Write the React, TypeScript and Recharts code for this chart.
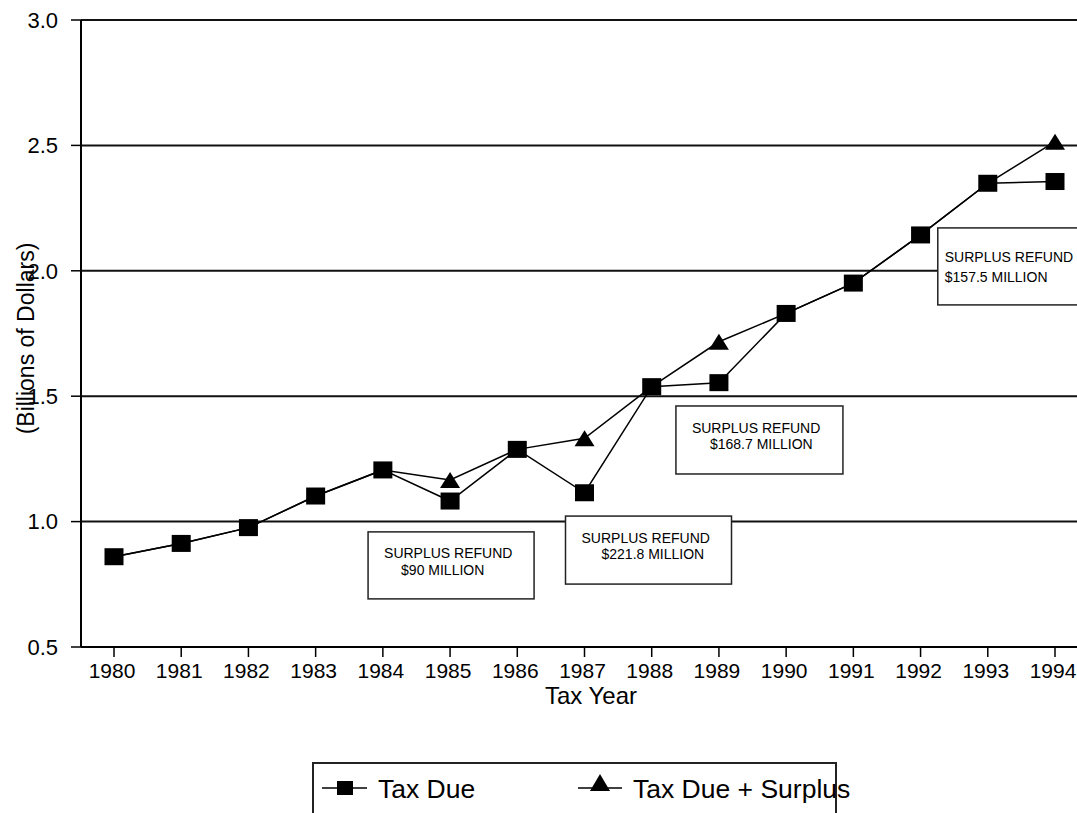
import React from "react";
import {
  LineChart,
  Line,
  XAxis,
  YAxis,
  CartesianGrid,
  Legend,
  Label,
  ReferenceDot,
} from "recharts";

const YEARS = [
  "1980", "1981", "1982", "1983", "1984", "1985", "1986", "1987",
  "1988", "1989", "1990", "1991", "1992", "1993", "1994",
];

// billions of dollars
const TAX_DUE = [
  0.86, 0.913, 0.976, 1.102, 1.206, 1.082, 1.288, 1.115,
  1.538, 1.554, 1.83, 1.951, 2.143, 2.349, 2.356,
];

const TAX_DUE_PLUS_SURPLUS = [
  0.86, 0.913, 0.976, 1.102, 1.206, 1.166, 1.288, 1.332,
  1.538, 1.717, 1.83, 1.951, 2.143, 2.349, 2.515,
];

const Y_TICKS = [0.5, 1.0, 1.5, 2.0, 2.5, 3.0];

const REFUND_LABELS = [
  ["SURPLUS REFUND", "$90 MILLION"],
  ["SURPLUS REFUND", "$221.8 MILLION"],
  ["SURPLUS REFUND", "$168.7 MILLION"],
  ["SURPLUS REFUND", "$157.5 MILLION"],
];

// where each refund note box sits (anchor year / top value, pixel offsets)
const REFUND_BOXES = [
  { year: "1985", top: 0.959, dx: -82, w: 166, h: 67, l1: [16, 26], l2: [33, 43] },
  { year: "1987", top: 1.022, dx: -19, w: 166, h: 68, l1: [16, 27], l2: [36, 43] },
  { year: "1989", top: 1.461, dx: -43, w: 167, h: 68, l1: [16, 27], l2: [34, 43] },
  { year: "1993", top: 2.171, dx: -50, w: 170, h: 77, l1: [7, 34], l2: [7, 54] },
];

const FONT = '"Liberation Sans", Arial, sans-serif';

const data = YEARS.map((year, i) => ({
  year,
  taxDue: TAX_DUE[i],
  withSurplus: TAX_DUE_PLUS_SURPLUS[i],
}));

const SquareDot = (props: any) => {
  const { cx, cy, index } = props;
  if (cx == null || cy == null) return <g key={`sq-${index}`} />;
  return (
    <rect key={`sq-${index}`} x={cx - 9.5} y={cy - 8.5} width={19} height={17} fill="#000" />
  );
};

const TriangleDot = (props: any) => {
  const { cx, cy, index, payload } = props;
  if (cx == null || cy == null || payload.withSurplus === payload.taxDue) {
    return <g key={`tri-${index}`} />;
  }
  return (
    <path
      key={`tri-${index}`}
      d={`M${cx},${cy - 8} L${cx + 10},${cy + 8} L${cx - 10},${cy + 8} Z`}
      fill="#000"
    />
  );
};

const makeNote = (i: number) => (props: any) => {
  const { cx, cy } = props;
  const b = REFUND_BOXES[i];
  const x = cx + b.dx;
  const y = cy;
  return (
    <g>
      <rect x={x} y={y} width={b.w} height={b.h} fill="#fff" stroke="#222" strokeWidth={1.5} />
      <text x={x + b.l1[0]} y={y + b.l1[1]} fontSize={14} fontFamily={FONT} fill="#000">
        {REFUND_LABELS[i][0]}
      </text>
      <text x={x + b.l2[0]} y={y + b.l2[1]} fontSize={14} fontFamily={FONT} fill="#000">
        {REFUND_LABELS[i][1]}
      </text>
    </g>
  );
};

const XTitle = (props: any) => {
  const vb = props.viewBox;
  return (
    <text
      x={vb.x + vb.width / 2 + 12}
      y={vb.y + 57}
      textAnchor="middle"
      fontSize={24}
      fontFamily={FONT}
      fill="#000"
    >
      Tax Year
    </text>
  );
};

const YTitle = (props: any) => {
  const vb = props.viewBox;
  const cx = 25.5;
  const cy = vb.y + vb.height / 2 + 5;
  return (
    <text
      x={cx}
      y={cy}
      transform={`rotate(-90 ${cx} ${cy})`}
      textAnchor="middle"
      dominantBaseline="central"
      fontSize={23}
      fontFamily={FONT}
      fill="#000"
    >
      (Billions of Dollars)
    </text>
  );
};

const LegendBox = () => (
  <svg width={560} height={51} style={{ overflow: "visible", display: "block" }}>
    <path d="M1,51 L1,1 L524,1 L524,51" fill="none" stroke="#222" strokeWidth={2} />
    <line x1={10} y1={26} x2={55} y2={26} stroke="#000" strokeWidth={1.5} />
    <rect x={25} y={19} width={16} height={14} fill="#000" />
    <text x={66} y={36} fontSize={26.5} fontFamily={FONT} fill="#000">
      Tax Due
    </text>
    <line x1={266} y1={26} x2={310} y2={26} stroke="#000" strokeWidth={1.5} />
    <path d="M288,12 L298,29 L278,29 Z" fill="#000" />
    <text x={321} y={36} fontSize={26.5} fontFamily={FONT} fill="#000">
      Tax Due + Surplus
    </text>
  </svg>
);

export default function App() {
  return (
    <div style={{ position: "absolute", left: 0, top: 0, width: 1077, height: 813 }}>
      <LineChart
        width={1077}
        height={813}
        data={data}
        margin={{ top: 20, right: 0, bottom: 0, left: 0 }}
        style={{ fontFamily: FONT }}
      >
        <CartesianGrid vertical={false} stroke="#111" strokeWidth={2} />
        <XAxis
          dataKey="year"
          padding={{ left: 33, right: 22 }}
          interval={0}
          height={115}
          tickSize={10}
          tickMargin={6}
          axisLine={{ stroke: "#000", strokeWidth: 2 }}
          tickLine={{ stroke: "#000", strokeWidth: 1.5 }}
          tick={{ fill: "#000", fontSize: 21, fontFamily: FONT, dx: -2 }}
        >
          <Label content={XTitle} />
        </XAxis>
        <YAxis
          width={81}
          domain={[0.5, 3]}
          ticks={Y_TICKS}
          interval={0}
          tickSize={10}
          tickMargin={13}
          tickFormatter={(v: number) => v.toFixed(1)}
          axisLine={{ stroke: "#000", strokeWidth: 2 }}
          tickLine={{ stroke: "#000", strokeWidth: 1.5 }}
          tick={{ fill: "#000", fontSize: 22, fontFamily: FONT }}
        >
          <Label content={YTitle} />
        </YAxis>
        {REFUND_BOXES.map((b, i) => (
          <ReferenceDot
            key={b.year}
            x={b.year}
            y={b.top}
            r={1}
            ifOverflow="visible"
            shape={makeNote(i)}
          />
        ))}
        <Line
          type="linear"
          dataKey="withSurplus"
          stroke="#000"
          strokeWidth={1.5}
          dot={TriangleDot}
          activeDot={false}
          legendType="none"
          isAnimationActive={false}
        />
        <Line
          type="linear"
          dataKey="taxDue"
          stroke="#000"
          strokeWidth={1.5}
          dot={SquareDot}
          activeDot={false}
          legendType="none"
          isAnimationActive={false}
        />
        <Legend
          verticalAlign="bottom"
          content={LegendBox}
          wrapperStyle={{ left: 312, width: 560, height: 51 }}
        />
      </LineChart>
    </div>
  );
}
